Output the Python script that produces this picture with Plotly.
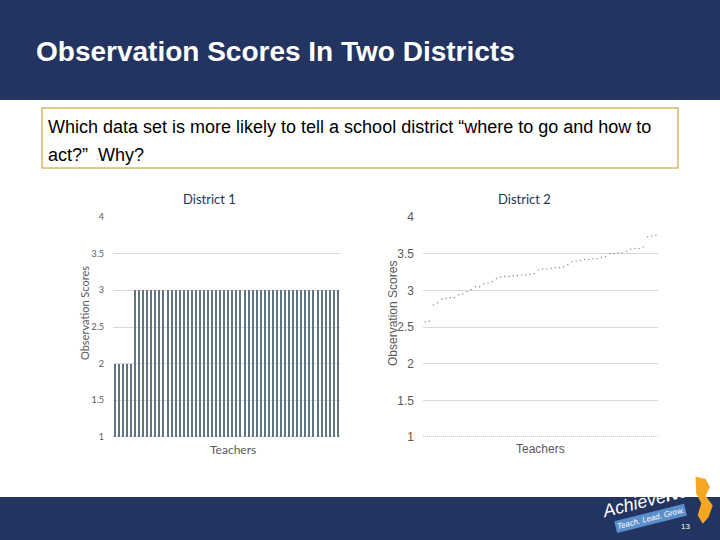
import plotly.graph_objects as go

# District 1: every teacher rated the same handful of values
d1_scores = [2, 2, 2, 2, 2] + [3] * 51
# District 2: sorted observation scores
d2_scores = [2.57, 2.58, 2.80, 2.83, 2.88, 2.89, 2.90, 2.90, 2.94, 2.95,
             2.98, 3.01, 3.05, 3.05, 3.09, 3.10, 3.12, 3.16, 3.18, 3.19,
             3.19, 3.20, 3.20, 3.21, 3.21, 3.22, 3.23, 3.28, 3.29, 3.29,
             3.30, 3.31, 3.31, 3.32, 3.35, 3.39, 3.40, 3.41, 3.42, 3.42,
             3.43, 3.43, 3.45, 3.46, 3.50, 3.50, 3.51, 3.51, 3.53, 3.56,
             3.57, 3.57, 3.59, 3.73, 3.74, 3.75]
teachers1 = list(range(1, len(d1_scores) + 1))
teachers2 = list(range(1, len(d2_scores) + 1))
y_ticks = [1, 1.5, 2, 2.5, 3, 3.5, 4]

navy = "#22345f"
grey = "#595959"
grid = "#d9d9d9"

fig = go.Figure()

fig.add_trace(go.Bar(x=teachers1, y=d1_scores, width=0.35,
                     marker=dict(color="#607482", line_width=0),
                     xaxis="x", yaxis="y", hoverinfo="x+y"))
fig.add_trace(go.Scatter(x=teachers2, y=d2_scores, mode="markers",
                         marker=dict(size=1.6, color="#9a9a9a"),
                         xaxis="x2", yaxis="y2"))

ydom = [1 - 437 / 540, 1 - 217 / 540]
axis_y = dict(range=[1, 4], tickvals=y_ticks, ticktext=["1", "1.5", "2", "2.5", "3", "3.5", "4"],
              showgrid=True, gridcolor=grid, gridwidth=1, zeroline=False,
              showline=False, domain=ydom, ticklabelstandoff=8, automargin=False)
axis_x = dict(showticklabels=False, showgrid=False, zeroline=False, showline=False,
              automargin=False)

fig.update_layout(
    width=720, height=540,
    margin=dict(l=0, r=0, t=0, b=0, pad=0, autoexpand=False),
    paper_bgcolor="white", plot_bgcolor="white",
    showlegend=False,
    bargap=0,
    xaxis=dict(axis_x, domain=[113 / 720, 340 / 720], range=[0.5, len(d1_scores) + 0.5]),
    xaxis2=dict(axis_x, domain=[423 / 720, 658 / 720], range=[0.5, len(d2_scores) + 0.5],
                anchor="y2"),
    yaxis=dict(axis_y, anchor="x", tickfont=dict(family="Lato", size=9, color=grey)),
    yaxis2=dict(axis_y, anchor="x2", tickfont=dict(family="Liberation Sans", size=12, color=grey)),
    font=dict(family="Liberation Sans"),
)

shapes = [
    # header and footer bands
    dict(type="rect", xref="paper", yref="paper", x0=0, x1=1, y0=1 - 100 / 540, y1=1,
         fillcolor=navy, line_width=0, layer="below"),
    dict(type="rect", xref="paper", yref="paper", x0=0, x1=1, y0=0, y1=43 / 540,
         fillcolor=navy, line_width=0, layer="below"),
    # question box
    dict(type="rect", xref="paper", yref="paper", x0=42 / 720, x1=678 / 720,
         y0=1 - 168 / 540, y1=1 - 108 / 540, line=dict(color="#d6b76a", width=1.5)),
    # dotted baselines
    dict(type="line", xref="x domain", yref="y", x0=0, x1=1, y0=1, y1=1,
         line=dict(color="#7f8ea5", width=1, dash="1px,1px")),
    dict(type="line", xref="x2 domain", yref="y2", x0=0, x1=1, y0=1, y1=1,
         line=dict(color="#7f8ea5", width=1, dash="1px,1px")),
    # orange NJ silhouette of the logo
    dict(type="path", xref="paper", yref="paper", layer="below",
         path="M 0.966 0.117 L 0.980 0.113 L 0.986 0.098 L 0.980 0.082 L 0.990 0.064 "
              "L 0.984 0.042 L 0.976 0.030 L 0.969 0.046 L 0.974 0.068 L 0.967 0.086 Z",
         fillcolor="#f5a623", line_width=0),
]
fig.update_layout(shapes=shapes)

def px(x, y):
    return x / 720, 1 - y / 540

anns = []
def note(text, x, y, size, color, family="Liberation Sans", xanchor="center", angle=0, **kw):
    ax, ay = px(x, y)
    anns.append(dict(text=text, x=ax, y=ay, xref="paper", yref="paper", showarrow=False,
                     xanchor=xanchor, yanchor="middle", textangle=angle,
                     font=dict(family=family, size=size, color=color), **kw))

note("<b>Observation Scores In Two Districts</b>", 34, 51, 28, "white", xanchor="left")
note("Which data set is more likely to tell a school district \u201cwhere to go and how to",
     46, 127, 18, "black", xanchor="left")
note("act?\u201d  Why?", 46, 155, 18, "black", xanchor="left")

note("District 1", 209, 199, 13, "#243553", family="Lato")
note("District 2", 524, 199, 13, "#243553", family="Lato")
note("Observation Scores", 84, 313, 11, grey, family="Lato", angle=-90)
note("Observation Scores", 393, 313, 12, grey, angle=-90)
note("Teachers", 233, 449, 12, grey, family="Lato")
note("Teachers", 540, 449, 12, grey)

# logo and page number
note("<i>Achieve<b>NJ</b></i>", 645, 501, 18, "white", angle=-14)
note("<i>Teach. Lead. Grow.</i>", 650, 518, 8, "white", angle=-14, bgcolor="#5a8fcc")
note("13", 685, 526, 8, "white")

fig.update_layout(annotations=anns)

fig.write_html("out.html", config={"displayModeBar": False},
               post_script="document.body.style.margin='0';document.body.style.overflow='hidden';"
                           "var d=document.getElementsByClassName('plotly-graph-div')[0];"
                           "d.style.position='fixed';d.style.top='0';d.style.left='0';")
